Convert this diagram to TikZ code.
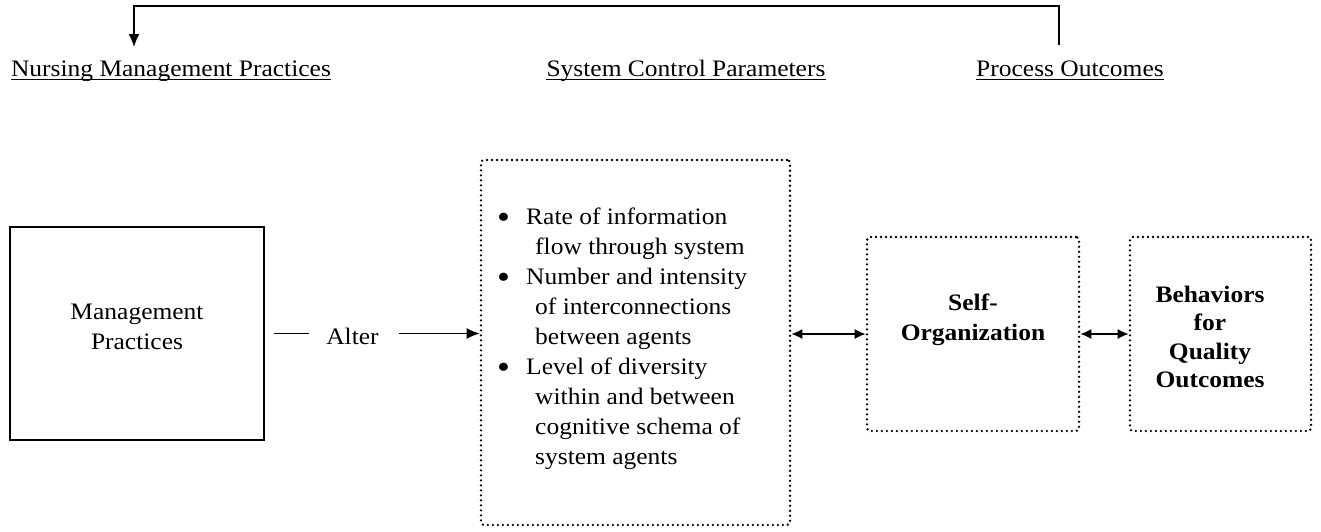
\documentclass[tikz,border=0pt]{standalone}
\usepackage{fontspec}
\setmainfont[FakeStretch=1.08]{Liberation Serif}
\usetikzlibrary{arrows.meta}
\newcommand{\bigbul}{\makebox[29pt][l]{\raisebox{-3.5pt}{\fontsize{34}{30}\selectfont•}}}
\begin{document}
\begin{tikzpicture}[x=1pt,y=-1pt,
  txt/.style={font=\fontsize{23.6}{30}\selectfont, inner sep=0pt},
  btxt/.style={font=\fontsize{23.6}{28.5}\selectfont\bfseries, inner sep=0pt, align=center},
  solidbox/.style={draw, line width=1.6pt},
  dotbox/.style={draw, line width=2.6pt, dash pattern=on 0pt off 5pt, line cap=round, rounded corners=3pt},
  arr/.style={-{Latex[length=13pt,width=11pt]}, line width=1.5pt},
  darr/.style={{Latex[length=11pt,width=10pt]}-{Latex[length=11pt,width=10pt]}, line width=1.5pt},
  uline/.style={line width=1.4pt},
]
\useasboundingbox (0,0) rectangle (1321,531);

% headings
\node[txt, anchor=base] (nmp) at (171,76) {Nursing Management Practices};
\node[txt, anchor=base] (scph) at (686,76) {System Control Parameters};
\node[txt, anchor=base] (poh) at (1070,76) {Process Outcomes};
\foreach \n in {nmp,scph,poh}
  \draw[uline] ([yshift=-3.5pt]\n.base west) -- ([yshift=-3.5pt]\n.base east);

% feedback connector
\coordinate (fbR) at (1059,45);
\coordinate (fbL) at (134,47);
\draw[arr] (fbR) -- ++(0,-39) -| (fbL);

% boxes
\node[solidbox, minimum width=254pt, minimum height=213pt] (mp) at (137,333.5) {};
\node[txt, align=center] (mpt) at (137,327) {Management\\Practices};

\node[dotbox, minimum width=309pt, minimum height=365pt] (scp) at (635.5,342.5) {};
\node[txt, align=left, anchor=west] (list) at (497,339) {%
\bigbul Rate of information\\
\hspace*{38pt}flow through system\\
\bigbul Number and intensity\\
\hspace*{38pt}of interconnections\\
\hspace*{38pt}between agents\\
\bigbul Level of diversity\\
\hspace*{38pt}within and between\\
\hspace*{38pt}cognitive schema of\\
\hspace*{38pt}system agents};

\node[dotbox, minimum width=212pt, minimum height=194pt] (self) at (973,334) {};
\node[btxt, font=\fontsize{23.6}{30}\selectfont\bfseries] (selft) at (973,320) {Self-\\Organization};

\node[dotbox, minimum width=181pt, minimum height=194pt] (beh) at (1220.5,334) {};
\node[btxt] (beht) at (1210,337) {Behaviors\\for\\Quality\\Outcomes};

% alter connector
\node[txt] (alter) at (352.5,336) {Alter};
\draw[line width=1.5pt] ([xshift=9pt]mp.east) -- ([xshift=-17pt]mp.east -| alter.west);
\draw[arr] ([xshift=20pt]mp.east -| alter.east) -- (scp.west |- mp.east);

% double arrows
\draw[darr] (scp.east |- self.west) -- (self.west);
\draw[darr] (self.east) -- (beh.west);
\end{tikzpicture}
\end{document}
